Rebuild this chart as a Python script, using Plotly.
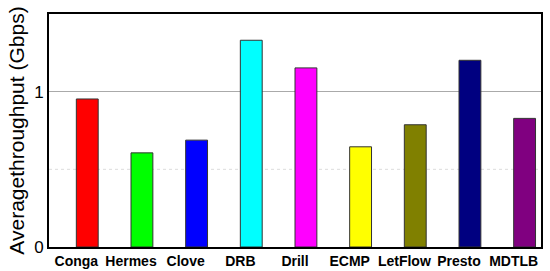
import plotly.graph_objects as go

categories = ["Conga", "Hermes", "Clove", "DRB", "Drill", "ECMP", "LetFlow", "Presto", "MDTLB"]
throughput = [0.953, 0.606, 0.688, 1.331, 1.153, 0.645, 0.787, 1.202, 0.828]
colors = ["#ff0000", "#00ff00", "#0000ff", "#00ffff", "#ff00ff", "#ffff00", "#808000", "#000080", "#800080"]

fig = go.Figure()
fig.add_trace(go.Bar(
    x=categories, y=throughput,
    marker=dict(color=colors, line=dict(color="#333333", width=1)),
    width=0.4, offset=0.0,
))

fig.update_layout(
    width=550, height=271,
    margin=dict(l=49, r=9, t=14, b=24),
    plot_bgcolor="white", paper_bgcolor="white",
    showlegend=False,
    font=dict(family="Arial, Liberation Sans", color="black"),
)
fig.update_xaxes(
    showline=True, linecolor="black", linewidth=2, mirror=True,
    tickfont=dict(size=14, family="Arial, Liberation Sans", weight="bold"),
    ticks="", showgrid=False, automargin=False,
)
fig.update_yaxes(
    range=[0, 1.5], tickvals=[0, 1], ticktext=["0", "1"],
    showline=True, linecolor="black", linewidth=2, mirror=True,
    tickfont=dict(size=17), ticks="", automargin=False,
    showgrid=True, gridcolor="#aaaaaa", gridwidth=1,
    title=dict(text="Averagethroughput (Gbps)", font=dict(size=21), standoff=4),
)
fig.add_hline(y=0.5, line=dict(color="#dddddd", width=1, dash="dot"), layer="below")

fig.write_html("out.html", config={"displayModeBar": False},
               post_script="document.body.style.margin='0';document.body.style.overflow='hidden';")
